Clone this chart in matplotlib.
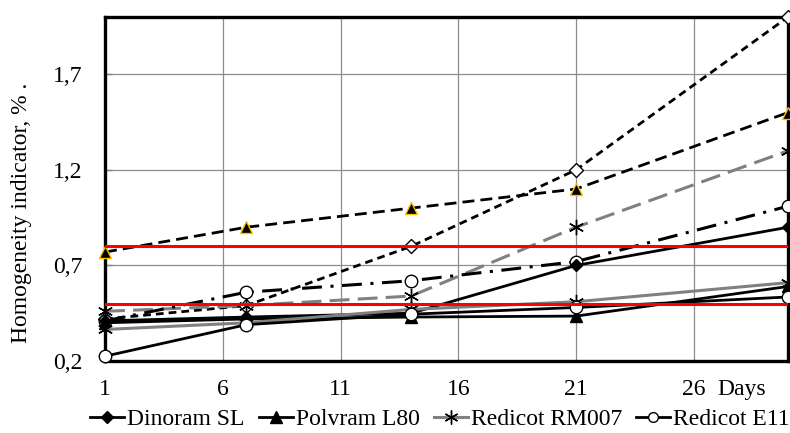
import matplotlib
matplotlib.use("Agg")
import matplotlib.pyplot as plt
from matplotlib.lines import Line2D

plt.rcParams['font.family'] = ['Liberation Serif', 'DejaVu Serif']

# days of observation
days = [1, 7, 14, 21, 30]

# series shown in the legend (solid lines)
dinoram_sl = [0.41, 0.43, 0.45, 0.70, 0.90]
polvram_l80 = [0.40, 0.42, 0.43, 0.435, 0.59]
redicot_rm007 = [0.365, 0.40, 0.47, 0.51, 0.61]
redicot_e11 = [0.225, 0.39, 0.445, 0.48, 0.535]

# second group (broken lines, no legend entry)
dinoram_sl_2 = [0.42, 0.49, 0.80, 1.20, 2.00]
polvram_l80_2 = [0.77, 0.90, 1.00, 1.10, 1.50]
redicot_rm007_2 = [0.46, 0.49, 0.54, 0.90, 1.30]
redicot_e11_2 = [0.41, 0.56, 0.62, 0.72, 1.01]

# red limit lines
limits = [0.8, 0.5]

x_ticks = [1, 6, 11, 16, 21, 26]
x_labels = ['1', '6', '11', '16', '21', '26']
y_ticks = [0.2, 0.7, 1.2, 1.7]
y_labels = ['0,2', '0,7', '1,2', '1,7']

asterisk = (6, 2, 0)
fs = 17

fig = plt.figure(figsize=(7.9, 4.33), dpi=100)
ax = fig.add_axes([105 / 790, 1 - 361 / 433, 683 / 790, 344 / 433])

common = dict(clip_on=False, zorder=3)

# broken lines
ax.plot(days, dinoram_sl_2, color='black', lw=2, dashes=(2.8, 1.8),
        marker='D', ms=7, mfc='white', mec='black', mew=1, **common)
ax.plot(days, polvram_l80_2, color='black', lw=2, dashes=(4.3, 2.2),
        marker='^', ms=9, mfc='black', mec='#FFC000', mew=1, **common)
ax.plot(days, redicot_rm007_2, color='#808080', lw=2.2, dashes=(6.5, 2.7),
        marker=asterisk, ms=11, mec='black', mew=1, **common)
ax.plot(days, redicot_e11_2, color='black', lw=2.2, dashes=(6.5, 2.8, 1, 2.8),
        marker='o', ms=9, mfc='white', mec='black', mew=1, **common)

# solid lines
ax.plot(days, dinoram_sl, color='black', lw=2, marker='D', ms=6,
        mfc='black', mec='black', **common)
ax.plot(days, polvram_l80, color='black', lw=2, marker='^', ms=9,
        mfc='black', mec='black', **common)
ax.plot(days, redicot_rm007, color='#808080', lw=2.2, marker=asterisk, ms=11,
        mec='black', mew=1, **common)
ax.plot(days, redicot_e11, color='black', lw=2, marker='o', ms=9,
        mfc='white', mec='black', mew=1, **common)

for lev in limits:
    ax.axhline(lev, color='#FF0000', lw=2.2, zorder=3.5)

ax.set_xlim(1, 30)
ax.set_ylim(0.2, 2.0)
ax.set_xticks(x_ticks)
ax.set_xticklabels(x_labels, fontsize=fs)
ax.set_yticks(y_ticks)
ax.set_yticklabels(y_labels, fontsize=fs)
ax.tick_params(axis='x', length=0, pad=13)
ax.tick_params(axis='y', direction='in', length=5, width=1, color='#808080', pad=16)
ax.grid(True, color='#8c8c8c', lw=0.9)
ax.set_axisbelow(True)
for sp in ax.spines.values():
    sp.set_linewidth(2.4)
    sp.set_color('black')

ax.text(717 / 790, 1 - 390 / 433, 'Days', transform=fig.transFigure,
        fontsize=fs, ha='left', va='center')
fig.text(22 / 790, 1 - 213 / 433, 'Homogeneity indicator, % .', rotation=90,
         fontsize=fs, ha='center', va='center')

handles = [
    Line2D([], [], color='black', lw=2, marker='D', ms=6, mfc='black'),
    Line2D([], [], color='black', lw=2, marker='^', ms=8, mfc='black'),
    Line2D([], [], color='#808080', lw=2.2, marker=asterisk, ms=10, mec='black', mew=1),
    Line2D([], [], color='black', lw=2, marker='o', ms=7, mfc='white', mec='black', mew=1),
]
fig.legend(handles, ['Dinoram SL', 'Polvram L80', 'Redicot RM007', 'Redicot E11'],
           loc='center', bbox_to_anchor=(440 / 790, 0.032), ncol=4, frameon=False,
           fontsize=fs, handlelength=1.45, handletextpad=0.12, columnspacing=0.6,
           borderpad=0)

fig.savefig('out.png', dpi=100)
